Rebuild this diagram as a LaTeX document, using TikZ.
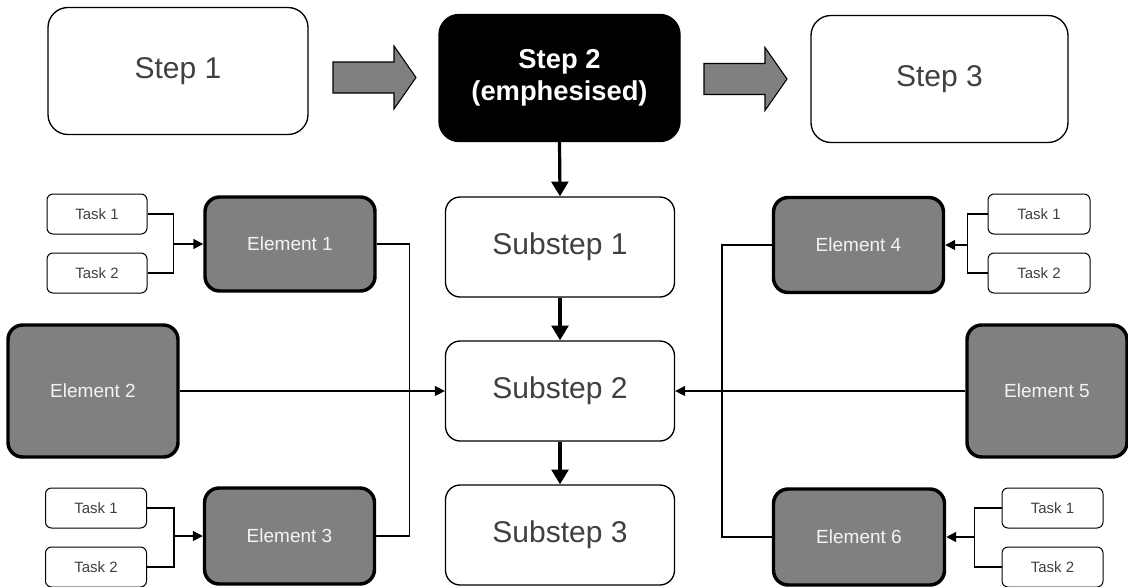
\documentclass[tikz,border=0pt]{standalone}
\usepackage{fontspec}
\setmainfont{Liberation Sans}
\usetikzlibrary{arrows.meta,calc}
\definecolor{txt}{HTML}{404040}
\definecolor{elem}{HTML}{808080}
\definecolor{elemtxt}{HTML}{F4F4F4}
\begin{document}
\begin{tikzpicture}[x=0.75pt,y=-0.75pt,
  sz/.style 2 args={minimum width=#1*0.75pt, minimum height=#2*0.75pt, inner sep=0pt},
  stepbox/.style={draw, line width=1pt, rounded corners=15pt, fill=white, text=txt,
    font=\fontsize{22.5}{27}\selectfont},
  keybox/.style={draw, fill=black, line width=1pt, rounded corners=15pt, text=white,
    align=center, font=\bfseries\fontsize{20.5}{24}\selectfont},
  subbox/.style={draw, line width=1pt, rounded corners=11pt, fill=white, text=txt,
    font=\fontsize{22.5}{27}\selectfont},
  elembox/.style={draw, fill=elem, line width=2.6pt, rounded corners=11pt, text=elemtxt,
    font=\fontsize{14.25}{17}\selectfont},
  taskbox/.style={draw, line width=0.75pt, rounded corners=4.5pt, fill=white, text=txt,
    font=\fontsize{11.25}{13}\selectfont},
  link/.style={line width=1.1pt},
  linkarrow/.style={link, -{Triangle[length=7.5pt,width=7.5pt]}},
  flow/.style={line width=2.4pt, -{Triangle[length=11pt,width=12.5pt]}},
  blockarrow/.style={draw=black, fill=elem, line width=0.8pt, line join=miter}
]
\useasboundingbox (0,0) rectangle (1128,586);

% main steps
\node[stepbox, sz={260}{127}] (s1) at (178,71) {Step 1};
\node[keybox,  sz={241}{127}] (s2) at (559.5,78) {Step 2\\(emphesised)};
\node[stepbox, sz={257}{127}] (s3) at (939.5,79) {Step 3};

% substeps
\node[subbox, sz={229}{100}] (sub1) at (560,247) {Substep 1};
\node[subbox, sz={229}{100}] (sub2) at (560,391) {Substep 2};
\node[subbox, sz={229}{100}] (sub3) at (560,535) {Substep 3};

% elements
\node[elembox, sz={170}{94}]  (e1) at (290,244) {Element 1};
\node[elembox, sz={170}{132}] (e2) at (93,391)  {Element 2};
\node[elembox, sz={170}{96}]  (e3) at (289.5,536) {Element 3};
\node[elembox, sz={170}{95}]  (e4) at (858.5,245) {Element 4};
\node[elembox, sz={160}{132}] (e5) at (1047,391) {Element 5};
\node[elembox, sz={171}{96}]  (e6) at (859,537) {Element 6};

% tasks
\node[taskbox, sz={100}{40}] (t1a) at (97,214) {Task 1};
\node[taskbox, sz={100}{40}] (t1b) at (97,273) {Task 2};
\node[taskbox, sz={101}{40}] (t3a) at (96,508) {Task 1};
\node[taskbox, sz={101}{40}] (t3b) at (96,567) {Task 2};
\node[taskbox, sz={102}{40}] (t4a) at (1039,214) {Task 1};
\node[taskbox, sz={102}{40}] (t4b) at (1039,273) {Task 2};
\node[taskbox, sz={101}{40}] (t6a) at (1052.5,508) {Task 1};
\node[taskbox, sz={101}{40}] (t6b) at (1052.5,567) {Task 2};

% block arrows between the main steps
\coordinate (ba1) at (374.5,77.5);
\coordinate (ba2) at (745.5,79);
\foreach \c in {ba1,ba2}{
  \draw[blockarrow] ($(\c)+(-41.5,-15.5)$) -- ($(\c)+(19.5,-15.5)$) -- ($(\c)+(19.5,-31.5)$)
    -- ($(\c)+(41.5,0)$) -- ($(\c)+(19.5,31.5)$) -- ($(\c)+(19.5,15.5)$)
    -- ($(\c)+(-41.5,15.5)$) -- cycle;
}

% vertical flow
\draw[flow] (s2.south) -- (sub1.north);
\draw[flow] (sub1.south) -- (sub2.north);
\draw[flow] (sub2.south) -- (sub3.north);

% task junctions
\coordinate (j1) at ($(e1.west)+(-30,0)$);
\coordinate (j3) at ($(e3.west)+(-29,0)$);
\coordinate (j4) at ($(e4.east)+(22,0)$);
\coordinate (j6) at ($(e6.east)+(28,0)$);
\draw[link] (t1a.east) -| (j1) |- (t1b.east);
\draw[linkarrow] (j1) -- (e1.west);
\draw[link] (t3a.east) -| (j3) |- (t3b.east);
\draw[linkarrow] (j3) -- (e3.west);
\draw[link] (t4a.west) -| (j4) |- (t4b.west);
\draw[linkarrow] (j4) -- (e4.east);
\draw[link] (t6a.west) -| (j6) |- (t6b.west);
\draw[linkarrow] (j6) -- (e6.east);

% element buses
\coordinate (busL) at ($(e1.east)+(33,0)$);
\coordinate (busR) at ($(e4.west)+(-50,0)$);
\draw[link] (e1.east) -| (busL) |- (e3.east);
\draw[link] (e4.west) -| (busR) |- (e6.west);

% side inputs to substep 2
\draw[linkarrow] (e2.east) -- (sub2.west);
\draw[linkarrow] (e5.west) -- (sub2.east);
\end{tikzpicture}
\end{document}
